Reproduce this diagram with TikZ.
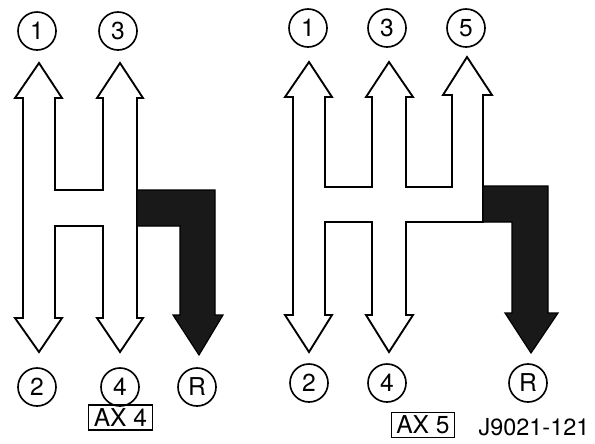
\documentclass[tikz,border=0pt]{standalone}
\usepackage{fontspec}
\setmainfont{TeX Gyre Heros}
\tikzset{
    gear/.style={circle, draw, line width=1.4pt, minimum size=1.14cm, inner sep=0pt,
    	font=\fontsize{21}{24}\selectfont}
}
\tikzset{
    gate/.style={draw, line width=1.6pt, fill=white}
}
\tikzset{
    revgate/.style={draw, fill=black!90, line width=1pt}
}
\tikzset{
    tag/.style={rectangle, draw, line width=1pt, minimum width=1.9cm, minimum height=0.75cm,
    	inner sep=0pt, font=\fontsize{21}{24}\selectfont}
}

\begin{document}
\begin{tikzpicture}[x=0.03cm, y=-0.03cm]
	\useasboundingbox (0,0) rectangle (595,443);

	% AX 4 gate
	\draw [gate] (39,63) -- (62,98) -- (55,98) -- (55,190) -- (103,190) -- (103,98) -- (97,98)
		-- (120,63) -- (143,98) -- (137,98) -- (137,318) -- (143,318) -- (120,352) -- (97,318)
		-- (103,318) -- (103,226) -- (55,226) -- (55,318) -- (62,318) -- (39,352) -- (15,318)
		-- (23,318) -- (23,98) -- (15,98) -- cycle;
	\draw [revgate] (137,190) -- (215,190) -- (215,315) -- (223,315) -- (199,355) -- (173,315)
		-- (180,315) -- (180,226) -- (137,226) -- cycle;

	\node (a1) [gear] at (37,31) {1};
	\node (a3) [gear] at (118,31) {3};
	\node (a2) [gear] at (37,387) {2};
	\node (a4) [gear] at (120,387) {4};
	\node (aR) [gear] at (197,387) {R};
	\node (ax4) [tag] at (120.5,417.5) {AX 4};

	% AX 5 gate
	\draw [gate] (309,62) -- (332,97) -- (325,97) -- (325,187) -- (372,187) -- (372,97) -- (366,97)
		-- (389,62) -- (413,97) -- (406,97) -- (406,187) -- (452,187) -- (452,95) -- (443,95)
		-- (467,57) -- (492,95) -- (483,95) -- (483,222) -- (406,222) -- (406,315) -- (413,315)
		-- (389,352) -- (366,315) -- (372,315) -- (372,222) -- (325,222) -- (325,315) -- (332,315)
		-- (309,352) -- (285,315) -- (293,315) -- (293,97) -- (285,97) -- cycle;
	\draw [revgate] (483,186) -- (548,186) -- (548,313) -- (558,313) -- (531,353) -- (505,313)
		-- (512,313) -- (512,222) -- (483,222) -- cycle;

	\node (b1) [gear] at (308,28) {1};
	\node (b3) [gear] at (387,28) {3};
	\node (b5) [gear] at (466,28) {5};
	\node (b2) [gear] at (309,383) {2};
	\node (b4) [gear] at (387,383) {4};
	\node (bR) [gear] at (528,383) {R};
	\node (ax5) [tag] at (423,425) {AX 5};
	\node (code) [font=\fontsize{20}{24}\selectfont] at (534,427) {J9021-121};
\end{tikzpicture}
\end{document}
